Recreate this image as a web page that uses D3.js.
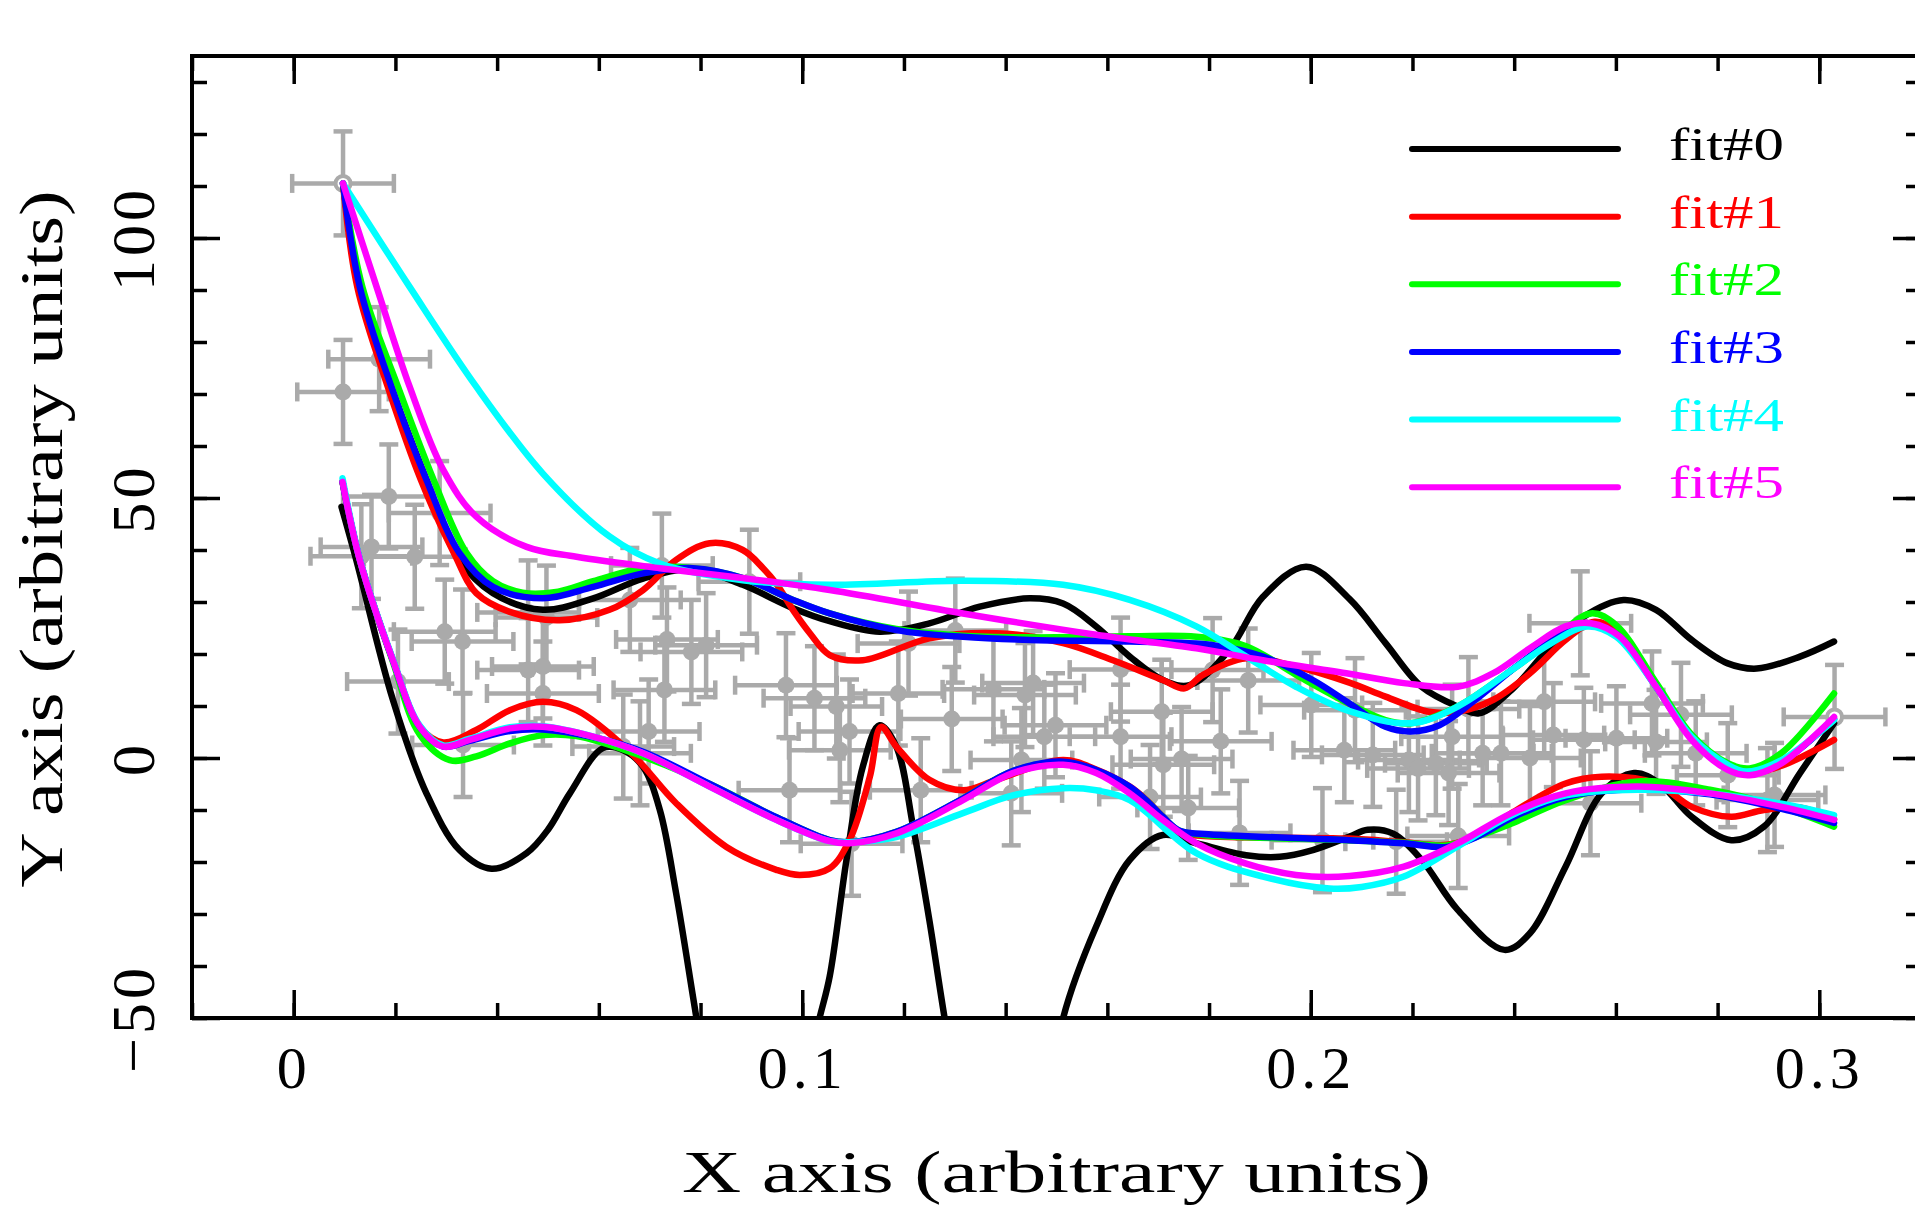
<!DOCTYPE html>
<html><head><meta charset="utf-8">
<script src="https://cdn.jsdelivr.net/npm/d3@7/dist/d3.min.js"></script>
<style>body{margin:0;background:#fff;overflow:hidden}svg{display:block}</style>
</head><body>
<svg id="chart" width="1915" height="1207"></svg>
<script>
// ---------- data ----------
const fitNames = ["fit#0","fit#1","fit#2","fit#3","fit#4","fit#5"];
const fitColors = ["#000000","#ff0000","#00ff00","#0000ff","#00ffff","#ff00ff"];
const xMajorTicks = [0, 0.1, 0.2, 0.3];
const xTickLabels = ["0", "0.1", "0.2", "0.3"];
const yMajorTicks = [-50, 0, 50, 100];
const yTickLabels = ["\u221250", "0", "50", "100"];
const xMinorTicks = [-0.02,0,0.02,0.04,0.06,0.08,0.1,0.12,0.14,0.16,0.18,0.2,0.22,0.24,0.26,0.28,0.3,0.32];
const yMinorTicks = [-50,-40,-30,-20,-10,0,10,20,30,40,50,60,70,80,90,100,110,120,130];

// data points: [x, y, xErr, yErr]
const dataPoints = [
 [0.0097,70.4,0.009,10],[0.0168,76.7,0.010,10],[0.0187,50.3,0.009,10],[0.0133,38.8,0.010,10],
 [0.0153,40.6,0.010,10],[0.0238,38.7,0.010,10],[0.0287,47.1,0.010,10],[0.0205,14.7,0.010,10],
 [0.0297,24.3,0.010,10],[0.0332,22.4,0.010,10],[0.0333,2.5,0.010,10],[0.0461,28.0,0.010,10],
 [0.0497,27.0,0.010,10],[0.0461,16.9,0.010,10],[0.0490,17.6,0.010,10],[0.0490,12.4,0.011,10],
 [0.0648,2.2,0.010,10],[0.0681,0.9,0.010,10],[0.0661,30.4,0.010,10],[0.0698,5.1,0.010,10],
 [0.0724,37.0,0.010,10],[0.0729,13.1,0.010,10],[0.0734,22.8,0.010,10],[0.0782,20.4,0.010,10],
 [0.0811,21.7,0.010,10],[0.0896,33.9,0.010,10],[0.0968,14.0,0.010,10],[0.0975,-6.2,0.010,10],
 [0.1024,11.5,0.010,10],[0.1067,9.9,0.009,10],[0.1074,1.5,0.010,10],[0.1093,5.1,0.010,10],
 [0.1097,-16.5,0.010,10],[0.1189,12.4,0.009,10],[0.1209,22.0,0.010,10],[0.1233,-6.2,0.010,10],
 [0.1294,7.5,0.010,10],[0.1301,24.5,0.010,10],[0.1376,13.2,0.010,10],[0.1411,-6.8,0.010,10],
 [0.1431,-0.4,0.010,10],[0.1438,12.1,0.010,10],[0.1454,14.4,0.010,10],[0.1476,4.1,0.010,10],
 [0.1498,6.3,0.010,10],[0.1626,17.0,0.010,10],[0.1626,4.1,0.010,10],[0.1684,-7.5,0.010,10],
 [0.1707,8.9,0.010,10],[0.1710,-1.3,0.010,10],[0.1746,-0.2,0.010,10],[0.1759,-9.6,0.010,10],
 [0.1807,16.9,0.010,10],[0.1823,3.2,0.010,10],[0.1860,-14.4,0.010,10],[0.1877,14.9,0.010,10],
 [0.2001,10.2,0.010,10],[0.2023,-15.8,0.010,10],[0.2066,1.5,0.010,10],[0.2087,9.2,0.010,10],
 [0.2122,0.6,0.010,10],[0.2168,-16.1,0.010,10],[0.2193,-0.4,0.010,10],[0.2211,-2.0,0.010,10],
 [0.2246,-1.0,0.010,10],[0.2271,-2.9,0.010,10],[0.2278,4.1,0.010,10],[0.2290,-15.0,0.010,10],
 [0.2310,9.4,0.010,10],[0.2338,0.9,0.010,10],[0.2374,0.9,0.010,10],[0.2431,0.0,0.010,10],
 [0.2459,10.8,0.010,10],[0.2477,4.4,0.010,10],[0.2530,25.9,0.010,10],[0.2537,3.5,0.010,10],
 [0.2550,-8.7,0.010,10],[0.2601,3.8,0.010,10],[0.2671,10.5,0.010,10],[0.2679,3.1,0.010,10],
 [0.2728,8.3,0.010,10],[0.2757,0.9,0.010,10],[0.2820,-3.3,0.010,10],[0.2898,-8.1,0.010,10],
 [0.2912,-7.1,0.010,10]
];
// open (end) points: [x, y, xErr, yErr]
const endPoints = [[0.0097,110.5,0.010,10],[0.3030,7.9,0.010,10]];

// fit curves (upper and lower branch of each fit)
const fit0Upper = [[0.0097,110.5],[0.013,90.6],[0.0192,71.4],[0.0261,53.5],[0.0326,38.1],[0.0392,31.7],[0.049,28.5],[0.0589,30.7],[0.0687,34.5],[0.0785,36.3],[0.0883,33.3],[0.0982,28.8],[0.1054,26.3],[0.1152,24.3],[0.125,25.9],[0.1349,29.1],[0.1447,30.7],[0.1513,29.7],[0.1578,25.3],[0.1644,19.5],[0.1709,15],[0.1762,14],[0.184,20.8],[0.1906,31],[0.1991,36.8],[0.2076,30.6],[0.2147,22.1],[0.2218,13.7],[0.2289,9.9],[0.2331,8.6],[0.2395,13.1],[0.2466,20.8],[0.2537,27.2],[0.2615,30.4],[0.2679,28.5],[0.2749,22.7],[0.282,18.2],[0.2877,17.2],[0.2962,19.5],[0.3029,22.4]];
const fit0Lower = [[0.0094,48.3],[0.0123,38.1],[0.0195,11.2],[0.0261,-6.8],[0.0326,-17.7],[0.0389,-21.3],[0.0458,-18.3],[0.0500,-13.8],[0.0543,-6.8],[0.0608,1.9],[0.0648,1.5],[0.0687,-1.7],[0.072,-10],[0.0752,-26],[0.0792,-50],[0.083,-72],[0.090,-86],[0.097,-75],[0.1034,-50],[0.1054,-42],[0.1087,-19.6],[0.1119,-1.7],[0.1152,6.3],[0.1185,2.2],[0.1218,-13.2],[0.125,-31.2],[0.128,-50],[0.132,-72],[0.140,-86],[0.147,-75],[0.1513,-50],[0.1578,-32.4],[0.1644,-19.6],[0.1709,-14.8],[0.1775,-16.4],[0.1873,-18.7],[0.1939,-19],[0.2004,-17.7],[0.2076,-15.1],[0.2112,-13.8],[0.2161,-14.5],[0.2218,-19.6],[0.2289,-29.2],[0.2381,-36.9],[0.2431,-33.7],[0.2501,-20.9],[0.2572,-6.8],[0.2636,-2.9],[0.2686,-4.9],[0.2749,-11.3],[0.2827,-15.8],[0.2891,-13.2],[0.2962,-2.9],[0.3029,6.7]];
const fit1Upper = [[0.0097,110.5],[0.0125,90.6],[0.0185,71.4],[0.025,53.5],[0.0315,39.4],[0.0359,31.7],[0.0425,28.1],[0.0523,26.5],[0.0621,28.5],[0.0687,32.3],[0.0752,38.1],[0.0818,41.3],[0.0883,40],[0.0923,36.5],[0.0949,33.5],[0.0985,28],[0.1015,24],[0.1054,19.8],[0.1119,18.8],[0.125,23],[0.1382,24],[0.1513,22.1],[0.1611,18.8],[0.1709,15],[0.1752,13.4],[0.1788,16],[0.1873,19.2],[0.1971,17.6],[0.2076,14.5],[0.2147,11.8],[0.2232,8.9],[0.2289,8.9],[0.2359,11.2],[0.2431,16.3],[0.2501,22.7],[0.2558,26.2],[0.2608,24],[0.2679,14],[0.2749,4],[0.282,-1.8],[0.2863,-3],[0.2926,-1.5],[0.3029,3.5]];
const fit1Lower = [[0.0096,53.1],[0.013,38.1],[0.0195,18.8],[0.0248,6],[0.0294,3],[0.0359,5.4],[0.0425,9.2],[0.049,10.8],[0.0556,9.2],[0.0661,1.2],[0.0752,-8.7],[0.0851,-17.1],[0.0949,-21.5],[0.0995,-22.5],[0.1054,-21.2],[0.1093,-15.8],[0.1133,-3.6],[0.1155,6],[0.1185,2.2],[0.125,-4.2],[0.1316,-6.2],[0.1382,-4.2],[0.1513,-0.4],[0.1578,-2.2],[0.1644,-5.5],[0.1676,-8],[0.1709,-11.3],[0.1742,-14.3],[0.179,-15],[0.2076,-15.5],[0.2183,-16.2],[0.2268,-16.7],[0.233,-14.8],[0.2395,-10.6],[0.2501,-4.9],[0.2572,-3.6],[0.2679,-4.9],[0.2749,-9.4],[0.2827,-11.3],[0.2891,-10],[0.2962,-9.5],[0.3029,-11.8]];
const fit2Upper = [[0.0097,110.5],[0.0135,90.6],[0.0205,71.4],[0.0275,53.5],[0.034,39.4],[0.0392,34],[0.045,31.8],[0.052,32],[0.0589,34],[0.0687,36.5],[0.0785,36.5],[0.0883,34.6],[0.0982,30.4],[0.1054,27.8],[0.1185,24.8],[0.1316,23.5],[0.1447,23.2],[0.1644,23.4],[0.1775,23.3],[0.1873,21.5],[0.1971,16],[0.2076,10.4],[0.2147,7.3],[0.2197,6.7],[0.2289,9.9],[0.2395,16.9],[0.2473,22.5],[0.2551,27.8],[0.2601,25.5],[0.2679,14.5],[0.2749,4.5],[0.282,-1],[0.2863,-2],[0.2926,1],[0.3029,12.4]];
const fit2Lower = [[0.0096,53.1],[0.013,38.1],[0.0195,18.5],[0.0248,4.5],[0.0307,-0.4],[0.0359,0.3],[0.0425,2.8],[0.049,4.4],[0.0556,4.2],[0.0661,1.2],[0.0818,-5],[0.0949,-11.4],[0.1054,-15.8],[0.1093,-16.2],[0.1185,-14.2],[0.1316,-7.8],[0.1414,-2.5],[0.1513,-0.9],[0.1578,-2.5],[0.1644,-5.7],[0.1676,-8.1],[0.1709,-11.3],[0.1742,-14],[0.179,-14.8],[0.2076,-15.8],[0.2183,-16.3],[0.2268,-16.8],[0.233,-15],[0.2395,-12.6],[0.2501,-8.1],[0.2643,-4.5],[0.2785,-6.1],[0.2926,-9.5],[0.3029,-13.2]];
const fit3Upper = [[0.0097,110.5],[0.013,90.6],[0.0192,71.4],[0.0261,53.5],[0.0326,39.4],[0.0392,32.9],[0.049,30.7],[0.0589,32.9],[0.0687,35.5],[0.0785,36.5],[0.0883,34.6],[0.0982,30.4],[0.1054,27.8],[0.1185,24.6],[0.1316,23.3],[0.1447,22.7],[0.1644,22.4],[0.1808,21.7],[0.1906,19.5],[0.2004,15],[0.2076,10.5],[0.2147,6],[0.2197,5.1],[0.2253,6.3],[0.2324,11.2],[0.2395,16.9],[0.2466,22],[0.2537,25.8],[0.2601,23.8],[0.2679,13.7],[0.2749,3.9],[0.282,-1.8],[0.2863,-3],[0.2926,-0.8],[0.3029,7.5]];
const fit3Lower = [[0.0096,53.1],[0.013,38.1],[0.0195,18.8],[0.0248,6],[0.0294,2.2],[0.0346,3.3],[0.0425,5.2],[0.049,5.5],[0.0589,4],[0.0687,1.2],[0.0818,-5],[0.0949,-11.4],[0.1054,-15.8],[0.1093,-16.2],[0.1185,-14.2],[0.1316,-7.8],[0.1414,-2.5],[0.1513,-0.7],[0.1578,-2.3],[0.1644,-5.5],[0.1676,-8.1],[0.1709,-11.3],[0.1742,-14],[0.179,-14.6],[0.2076,-15.8],[0.2183,-16.4],[0.2268,-17.1],[0.233,-15],[0.2395,-11.5],[0.2501,-7.5],[0.2643,-6],[0.2785,-7],[0.2926,-9.8],[0.3029,-12.5]];
const fit4Upper = [[0.0097,110.5],[0.0228,90.6],[0.0359,71.4],[0.049,54.7],[0.0621,42.6],[0.072,37.4],[0.0883,34.2],[0.1054,33.3],[0.1316,34.1],[0.1513,33.3],[0.1644,30.4],[0.1775,25.3],[0.1873,19.5],[0.1971,13.7],[0.2076,9],[0.2197,6.7],[0.2289,9.9],[0.2395,16.9],[0.2473,22.1],[0.2544,25.3],[0.2601,23.3],[0.2679,13.7],[0.2749,4.1],[0.282,-1.3],[0.2856,-2.6],[0.2926,-0.4],[0.3029,7.3]];
const fit4Lower = [[0.0096,53.8],[0.013,38.3],[0.0195,19],[0.0248,6.2],[0.0294,2.4],[0.0346,3.7],[0.0425,5.9],[0.049,6.1],[0.0589,4.1],[0.0687,0.9],[0.0818,-5.5],[0.0949,-11.9],[0.1054,-16],[0.1093,-16.2],[0.1185,-15.2],[0.1316,-10.6],[0.1414,-7.2],[0.1513,-5.8],[0.1578,-6.2],[0.1644,-8.1],[0.1775,-18.3],[0.1906,-22.8],[0.2037,-25.1],[0.21,-24.8],[0.2183,-22.8],[0.2289,-17],[0.2395,-11],[0.2501,-7.2],[0.2643,-6.1],[0.2785,-6.8],[0.2926,-8.8],[0.3029,-11]];
const fit5Upper = [[0.0097,110.5],[0.0163,90.6],[0.0228,71.4],[0.0294,55.4],[0.0359,46.4],[0.0458,40.6],[0.0556,38.7],[0.072,36.5],[0.0883,34.6],[0.1054,32.3],[0.1316,27.8],[0.1578,23.7],[0.1775,21.1],[0.1906,18.8],[0.2076,16.2],[0.2183,14.4],[0.2289,13.7],[0.2359,16.3],[0.2431,21.1],[0.2501,25.3],[0.2551,25.9],[0.2608,23.3],[0.2679,13.7],[0.2749,3.5],[0.282,-2.3],[0.2863,-3.3],[0.2926,-1],[0.3029,7.9]];
const fit5Lower = [[0.0096,53.1],[0.013,38.1],[0.0195,18.8],[0.0248,6],[0.0294,2.2],[0.0346,3.5],[0.0425,5.7],[0.049,6],[0.0589,4.1],[0.0687,0.9],[0.0818,-5.5],[0.0949,-11.9],[0.1054,-16],[0.1093,-16.4],[0.1185,-14.5],[0.1316,-8.1],[0.1414,-2.9],[0.1513,-1.3],[0.1578,-2.9],[0.1644,-6.8],[0.1709,-11.9],[0.1775,-16.4],[0.1873,-20.3],[0.1971,-22.5],[0.2076,-22.7],[0.2183,-20.9],[0.2289,-16.4],[0.2395,-10.6],[0.2501,-6.8],[0.2643,-5.5],[0.2785,-6.8],[0.2926,-9.4],[0.3029,-11.9]];
const fitCurves = [[fit0Upper,fit0Lower],[fit1Upper,fit1Lower],[fit2Upper,fit2Lower],[fit3Upper,fit3Lower],[fit4Upper,fit4Lower],[fit5Upper,fit5Lower]];

// ---------- layout ----------
const PL = 192, PR = 1921, PT = 56, PB = 1018;
const FONT = "'Liberation Serif','DejaVu Serif',serif";
const GREY = "#aaaaaa";

const svg = d3.select("#chart");
const xs = d3.scaleLinear().domain([-0.02, 0.32]).range([PL, PR]);
const ys = d3.scaleLinear().domain([-50, 135]).range([PB, PT]);

svg.append("defs").append("clipPath").attr("id","plotclip")
  .append("rect").attr("x",PL).attr("y",PT).attr("width",PR-PL).attr("height",PB-PT);

const plot = svg.append("g").attr("clip-path","url(#plotclip)");

// error bars
const allPts = dataPoints.concat(endPoints);
const cap = 9.5;
const eb = plot.append("g").attr("stroke",GREY).attr("stroke-width",4.5).attr("fill","none");
allPts.forEach(p => {
  const [px,py,xe,ye] = p;
  const cx = xs(px), cy = ys(py);
  const x1 = xs(px-xe), x2 = xs(px+xe), y1 = ys(py+ye), y2 = ys(py-ye);
  eb.append("line").attr("x1",x1).attr("x2",x2).attr("y1",cy).attr("y2",cy);
  eb.append("line").attr("x1",cx).attr("x2",cx).attr("y1",y1).attr("y2",y2);
  eb.append("line").attr("x1",x1).attr("x2",x1).attr("y1",cy-cap).attr("y2",cy+cap);
  eb.append("line").attr("x1",x2).attr("x2",x2).attr("y1",cy-cap).attr("y2",cy+cap);
  eb.append("line").attr("x1",cx-cap).attr("x2",cx+cap).attr("y1",y1).attr("y2",y1);
  eb.append("line").attr("x1",cx-cap).attr("x2",cx+cap).attr("y1",y2).attr("y2",y2);
});
plot.append("g").selectAll("circle").data(dataPoints).join("circle")
  .attr("cx",d=>xs(d[0])).attr("cy",d=>ys(d[1])).attr("r",8.5).attr("fill",GREY);
plot.append("g").selectAll("circle").data(endPoints).join("circle")
  .attr("cx",d=>xs(d[0])).attr("cy",d=>ys(d[1])).attr("r",7.5).attr("fill","#fff")
  .attr("stroke",GREY).attr("stroke-width",4);

// curves
const line = d3.line().x(d=>xs(d[0])).y(d=>ys(d[1])).curve(d3.curveCatmullRom.alpha(0.5));
fitCurves.forEach((pair,i) => {
  pair.forEach(arr => {
    plot.append("path").attr("d",line(arr)).attr("fill","none")
      .attr("stroke",fitColors[i]).attr("stroke-width",6.5)
      .attr("stroke-linejoin","round").attr("stroke-linecap","round");
  });
});

// frame
svg.append("rect").attr("x",PL).attr("y",PT).attr("width",PR-PL).attr("height",PB-PT)
  .attr("fill","none").attr("stroke","#000").attr("stroke-width",4);

// axes (ticks inward on all four sides)
function styleAxis(g){ g.select(".domain").remove(); g.selectAll(".tick line").attr("stroke","#000").attr("stroke-width",3.5); }
svg.append("g").attr("transform",`translate(0,${PB})`)
  .call(d3.axisBottom(xs).tickValues(xMinorTicks).tickSizeInner(-15).tickSizeOuter(0).tickFormat(""))
  .call(styleAxis);
svg.append("g").attr("transform",`translate(0,${PT})`)
  .call(d3.axisTop(xs).tickValues(xMinorTicks).tickSizeInner(-15).tickSizeOuter(0).tickFormat(""))
  .call(styleAxis);
svg.append("g").attr("transform",`translate(0,${PT})`)
  .call(d3.axisTop(xs).tickValues(xMajorTicks).tickSizeInner(-28).tickSizeOuter(0).tickFormat(""))
  .call(styleAxis);
const xAx = svg.append("g").attr("transform",`translate(0,${PB})`)
  .call(d3.axisBottom(xs).tickValues(xMajorTicks).tickSizeInner(-28).tickSizeOuter(0)
    .tickFormat((d,i)=>xTickLabels[i]))
  .call(styleAxis);
xAx.selectAll("text").attr("y",70).attr("dy",null).attr("fill","#000")
  .style("font-family",FONT).style("font-size","60px").style("letter-spacing","5px");

svg.append("g").attr("transform",`translate(${PL},0)`)
  .call(d3.axisLeft(ys).tickValues(yMinorTicks).tickSizeInner(-15).tickSizeOuter(0).tickFormat(""))
  .call(styleAxis);
svg.append("g").attr("transform",`translate(${PR},0)`)
  .call(d3.axisRight(ys).tickValues(yMinorTicks).tickSizeInner(-15).tickSizeOuter(0).tickFormat(""))
  .call(styleAxis);
svg.append("g").attr("transform",`translate(${PR},0)`)
  .call(d3.axisRight(ys).tickValues(yMajorTicks).tickSizeInner(-28).tickSizeOuter(0).tickFormat(""))
  .call(styleAxis);
const yAx = svg.append("g").attr("transform",`translate(${PL},0)`)
  .call(d3.axisLeft(ys).tickValues(yMajorTicks).tickSizeInner(-28).tickSizeOuter(0)
    .tickFormat((d,i)=>yTickLabels[i]))
  .call(styleAxis);
yAx.selectAll("text").attr("x",null).attr("dy",null).attr("text-anchor","middle")
  .attr("transform","translate(-38,0) rotate(-90)").attr("fill","#000")
  .style("font-family",FONT).style("font-size","62px").style("letter-spacing","4px");

// axis titles
svg.append("text").attr("x",(PL+PR)/2).attr("y",1192).attr("text-anchor","middle")
  .attr("textLength",749).attr("lengthAdjust","spacingAndGlyphs")
  .style("font-family",FONT).style("font-size","60px").text("X axis (arbitrary units)");
svg.append("text").attr("transform",`translate(62,${(PT+PB)/2+2}) rotate(-90)`).attr("text-anchor","middle")
  .attr("textLength",697).attr("lengthAdjust","spacingAndGlyphs")
  .style("font-family",FONT).style("font-size","62px").text("Y axis (arbitrary units)");

// legend
const legY0 = 149, legStep = 67.65;
fitNames.forEach((name,i) => {
  const ly = legY0 + i*legStep;
  svg.append("line").attr("x1",1412).attr("x2",1618).attr("y1",ly).attr("y2",ly)
    .attr("stroke",fitColors[i]).attr("stroke-width",6).attr("stroke-linecap","round");
  svg.append("text").attr("x",1669).attr("y",ly+11).attr("fill",fitColors[i])
    .attr("textLength",115).attr("lengthAdjust","spacingAndGlyphs")
    .style("font-family",FONT).style("font-size","46px").text(name);
});
</script>
</body></html>
